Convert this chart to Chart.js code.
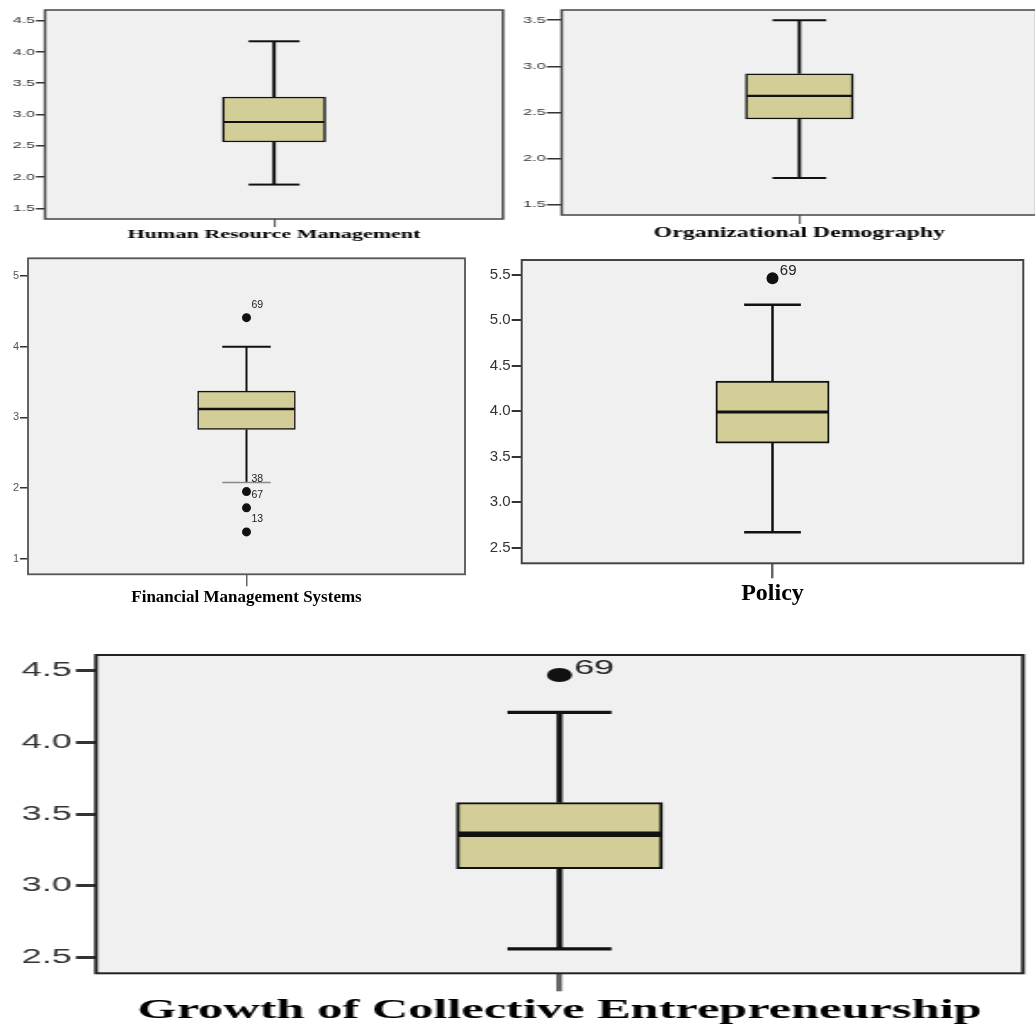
<!DOCTYPE html>
<html>
<head>
<meta charset="utf-8">
<script src="https://cdn.jsdelivr.net/npm/chart.js@4.4.1/dist/chart.umd.min.js"></script>
<style>
  html, body { margin: 0; padding: 0; background: #ffffff; overflow: hidden; }
  body { position: relative; width: 1035px; height: 1030px; }
  canvas { position: absolute; }
</style>
</head>
<body>
<canvas id="c0"></canvas>
<canvas id="c1"></canvas>
<canvas id="c2"></canvas>
<canvas id="c3"></canvas>
<canvas id="c4"></canvas>
<script>
// ---- Box plot summaries (one entry per variable) ----
const variableNames = [
  'Human Resource Management',
  'Organizational Demography',
  'Financial Management Systems',
  'Policy',
  'Growth of Collective Entrepreneurship'
];
const minimums       = [1.88, 1.79, 2.08, 2.67, 2.56];
const lowerQuartiles = [2.56, 2.43, 2.83, 3.65, 3.12];
const medians        = [2.88, 2.68, 3.12, 3.99, 3.36];
const upperQuartiles = [3.28, 2.92, 3.37, 4.33, 3.58];
const maximums       = [4.17, 3.50, 4.00, 5.17, 4.21];

// Outlying cases and their case numbers
const outlierValues = [[], [], [4.41, 1.95, 1.72, 1.38], [5.46], [4.47]];
const outlierCases  = [[], [], ['69', '38', '67', '13'], ['69'], ['69']];

// Value axes
const tickValues = [
  [1.5, 2.0, 2.5, 3.0, 3.5, 4.0, 4.5],
  [1.5, 2.0, 2.5, 3.0, 3.5],
  [1, 2, 3, 4, 5],
  [2.5, 3.0, 3.5, 4.0, 4.5, 5.0, 5.5],
  [2.5, 3.0, 3.5, 4.0, 4.5]
];
const tickDecimals = [1, 1, 0, 1, 1];
const axisMin = [1.33, 1.39, 0.78, 2.33, 2.39];
const axisMax = [4.67, 3.61, 5.25, 5.66, 4.61];

// ---- Appearance ----
const INK = '#111111';
const BOX_FILL = '#d3ce97';
const PLOT_BG = '#f0f0f0';

// Panel placement in page pixels; "stretch" widens each drawing horizontally.
// frame = [left, top, right, bottom] of the plot area inside the panel.
const panels = [
  { left: 0, top: 0, width: 510, height: 250, stretch: 1.7, frame: [45, 10, 503, 219],
    boxWidth: 103, capWidth: 51, boxLine: 1.5, whiskerLine: 2, capLine: 2, medianLine: 2.2,
    tickFont: 9.5, tickFamily: 'Liberation Sans', tickColor: '#333', yTick: 9, yTickLine: 1.5, yPad: 1,
    xTick: 8, xTickLine: 1.2, titleSize: 13, titlePad: 7.2, frameColor: '#444', frameLine: 1.5,
    dot: 4, labelSize: 10, labelDx: 5, labelDy: -10 },
  { left: 510, top: 0, width: 530, height: 250, stretch: 1.7, frame: [51.7, 10, 527, 215],
    boxWidth: 107.6, capWidth: 53.7, boxLine: 1.5, whiskerLine: 2, capLine: 2, medianLine: 2.4,
    tickFont: 9.5, tickFamily: 'Liberation Sans', tickColor: '#333', yTick: 15, yTickLine: 1.5, yPad: 1,
    xTick: 9, xTickLine: 1.2, titleSize: 14, titlePad: 8.6, frameColor: '#444', frameLine: 1.5,
    dot: 4, labelSize: 10, labelDx: 5, labelDy: -10 },
  { left: 0, top: 250, width: 470, height: 370, stretch: 1, frame: [28, 8.3, 465, 324.3],
    boxWidth: 97.7, capWidth: 48.5, boxLine: 1.5, whiskerLine: 2, capLine: 2, medianLine: 2.5,
    lowerCapColor: '#8a8a8a', lowerCapLine: 1.5,
    tickFont: 11, tickFamily: 'Liberation Sans', tickColor: '#555', yTick: 8, yTickLine: 1.5, yPad: 1,
    xTick: 12, xTickLine: 1.5, titleSize: 17, titlePad: 11.8, frameColor: '#555', frameLine: 1.8,
    dot: 4.5, labelSize: 10.5, labelDx: 5, labelDy: -12.5 },
  { left: 470, top: 250, width: 565, height: 370, stretch: 1, frame: [51.7, 9, 553.3, 313.3],
    boxWidth: 113.3, capWidth: 56.7, boxLine: 2, whiskerLine: 2.5, capLine: 2.5, medianLine: 3,
    tickFont: 15, tickFamily: 'Liberation Sans', tickColor: '#333', yTick: 10, yTickLine: 2, yPad: 1,
    xTick: 15, xTickLine: 2.5, titleSize: 24, titlePad: 11.9, frameColor: '#444', frameLine: 2,
    dot: 6, labelSize: 15, labelDx: 7.3, labelDy: -7.3 },
  { left: 0, top: 640, width: 1035, height: 390, stretch: 1.8, frame: [96, 15, 1023, 333.3],
    boxWidth: 206, capWidth: 104, boxLine: 2, whiskerLine: 3.3, capLine: 3.3, medianLine: 5.5,
    tickFont: 20, tickFamily: 'Liberation Sans', tickColor: '#333', yTick: 20, yTickLine: 3, yPad: 4.3,
    xTick: 18, xTickLine: 3.3, titleSize: 28, titlePad: 2.2, frameColor: '#222', frameLine: 2,
    dot: 7, labelSize: 20, labelDx: 14.5, labelDy: -6.5 }
];

// Plot background and surrounding frame
const plotFrame = {
  id: 'plotFrame',
  beforeDraw(chart, _args, opts) {
    const { ctx, chartArea: a } = chart;
    ctx.save();
    ctx.fillStyle = opts.fill;
    ctx.fillRect(a.left, a.top, a.width, a.height);
    ctx.restore();
  },
  afterDatasetsDraw(chart, _args, opts) {
    const { ctx, chartArea: a } = chart;
    ctx.save();
    ctx.strokeStyle = opts.color;
    ctx.lineWidth = opts.width;
    ctx.strokeRect(a.left, a.top, a.width, a.height);
    ctx.restore();
  }
};

// Case numbers written beside the outlying points
const caseLabels = {
  id: 'caseLabels',
  afterDatasetsDraw(chart, _args, opts) {
    const meta = chart.getDatasetMeta(opts.datasetIndex);
    const { ctx } = chart;
    ctx.save();
    ctx.font = `${opts.size}px ${opts.family}`;
    ctx.fillStyle = opts.color;
    ctx.textAlign = 'left';
    ctx.textBaseline = 'middle';
    meta.data.forEach((pt, k) => {
      ctx.fillText(opts.labels[k], pt.x + opts.dx, pt.y + opts.dy);
    });
    ctx.restore();
  }
};

Chart.register(plotFrame, caseLabels);
Chart.defaults.font.family = 'Liberation Sans';

function buildPanel(i) {
  const p = panels[i];
  const name = variableNames[i];
  const canvas = document.getElementById('c' + i);
  canvas.width = Math.round(p.width / p.stretch);
  canvas.height = p.height;
  canvas.style.left = p.left + 'px';
  canvas.style.top = p.top + 'px';
  canvas.style.width = p.width + 'px';
  canvas.style.height = p.height + 'px';
  const s = p.width / canvas.width;          // effective horizontal stretch
  const at = y => ({ x: name, y });

  new Chart(canvas, {
    type: 'bar',
    data: {
      labels: [name],
      datasets: [
        { type: 'bar', label: 'Interquartile range', data: [[lowerQuartiles[i], upperQuartiles[i]]],
          backgroundColor: BOX_FILL, borderColor: INK, borderWidth: p.boxLine, borderSkipped: false,
          barThickness: p.boxWidth / s, order: 6 },
        { type: 'line', label: 'Upper whisker', data: [at(upperQuartiles[i]), at(maximums[i])],
          borderColor: INK, borderWidth: p.whiskerLine, pointRadius: 0, clip: false, order: 5 },
        { type: 'line', label: 'Lower whisker', data: [at(lowerQuartiles[i]), at(minimums[i])],
          borderColor: INK, borderWidth: p.whiskerLine, pointRadius: 0, clip: false, order: 5 },
        { type: 'line', label: 'Whisker ends', data: [at(maximums[i]), at(minimums[i])],
          showLine: false, pointStyle: 'line', pointRadius: p.capWidth / s / 2,
          pointBorderWidth: [p.capLine, p.lowerCapLine || p.capLine],
          pointBorderColor: [INK, p.lowerCapColor || INK], clip: false, order: 4 },
        { type: 'line', label: 'Median', data: [at(medians[i])],
          showLine: false, pointStyle: 'line', pointRadius: p.boxWidth / s / 2 - p.boxLine / 2,
          pointBorderWidth: p.medianLine, pointBorderColor: INK, clip: false, order: 3 },
        { type: 'line', label: 'Outliers', data: outlierValues[i].map(at),
          showLine: false, pointStyle: 'circle', pointRadius: p.dot,
          pointBackgroundColor: INK, pointBorderWidth: 0, clip: false, order: 2 }
      ]
    },
    options: {
      responsive: false,
      devicePixelRatio: 1,
      animation: false,
      events: [],
      layout: { autoPadding: false,
        padding: { left: 0, top: p.frame[1], right: (p.width - p.frame[2]) / s, bottom: 0 } },
      plugins: {
        legend: { display: false },
        tooltip: { enabled: false },
        plotFrame: { fill: PLOT_BG, color: p.frameColor, width: p.frameLine },
        caseLabels: { datasetIndex: 5, labels: outlierCases[i], size: p.labelSize,
          family: 'Liberation Sans', color: '#222', dx: p.labelDx / s, dy: p.labelDy }
      },
      scales: {
        x: {
          type: 'category',
          offset: true,
          border: { display: false },
          grid: { offset: false, drawOnChartArea: false, drawTicks: true,
            tickLength: p.xTick, color: '#666', lineWidth: p.xTickLine },
          ticks: { display: false },
          title: { display: true, text: name, color: '#000',
            font: { family: 'Liberation Serif', weight: 'bold', size: p.titleSize },
            padding: { top: 0, bottom: p.titlePad } },
          afterFit: sc => { sc.height = p.height - p.frame[3]; }
        },
        y: {
          type: 'linear',
          min: axisMin[i],
          max: axisMax[i],
          border: { display: false },
          afterBuildTicks: sc => { sc.ticks = tickValues[i].map(v => ({ value: v })); },
          grid: { drawOnChartArea: false, drawTicks: true, tickLength: p.yTick / s,
            color: '#333', lineWidth: p.yTickLine },
          ticks: { padding: p.yPad / s, color: p.tickColor,
            font: { family: p.tickFamily, size: p.tickFont },
            callback: v => Number(v).toFixed(tickDecimals[i]) },
          afterFit: sc => { sc.width = p.frame[0] / s; }
        }
      }
    }
  });
}

variableNames.forEach((_, i) => buildPanel(i));
</script>
</body>
</html>
